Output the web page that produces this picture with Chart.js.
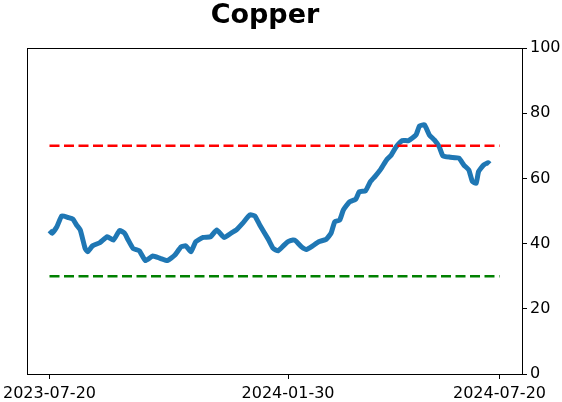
<!DOCTYPE html>
<html>
<head>
<meta charset="utf-8">
<script src="https://cdn.jsdelivr.net/npm/chart.js@4"></script>
<style>
  body { margin: 0; background: #fff; }
  #wrap { width: 562px; height: 402px; }
</style>
</head>
<body>
<div id="wrap"><canvas id="chart" width="562" height="402"></canvas></div>
<script>
// Dados
const chartTitle = 'Copper';
// dias desde 2023-07-20
const days = [0,2,6,10,15,19,22,25,29,31,35,41,47,52,57,61,64,68,73,78,84,90,96,102,107,111,115,119,125,131,136,142,148,152,157,163,167,171,178,182,186,191,194,198,200,205,209,214,219,225,229,232,236,239,244,249,252,257,261,265,269,274,278,282,287,292,298,301,305,309,313,317,320,326,333,337,341,344,347,349,353,357,358];
const values = [44,43.2,45.2,48.5,48,47.5,45.7,44.2,38.5,37.5,39.3,40.3,42.1,41.1,44,43.2,41.1,38.5,37.8,34.8,36.2,35.5,34.8,36.5,39,39.3,37.5,40.6,41.9,42.1,44.2,41.9,43.3,44.2,46.2,48.8,48.5,45.7,41.3,38.5,37.8,39.6,40.6,41.1,40.9,39,38.2,39.3,40.6,41.3,43.2,46.7,47.2,50.3,52.8,53.6,55.9,56.2,59,60.7,62.6,65.6,67.2,69.7,71.6,71.6,73.3,76.1,76.4,73.3,71.8,69.7,66.9,66.5,66.2,64.1,62.6,59,58.5,62.1,64.1,64.8,64.4];
const upperLevel = 70;
const lowerLevel = 30;
const rangeDays = [0, 366];
const tickDays = [0, 194, 366];
const tickLabels = ['2023-07-20', '2024-01-30', '2024-07-20'];
const yTicks = [0, 20, 40, 60, 80, 100];

const FONT = 'DejaVu Sans';
const span = rangeDays[1] - rangeDays[0];

// Moldura e título
const framePlugin = {
    id: 'frame',
    afterDraw(chart) {
        const { ctx, chartArea: a } = chart;
        ctx.save();
        ctx.strokeStyle = '#000';
        ctx.lineWidth = 1;
        ctx.strokeRect(Math.round(a.left) + 0.5, Math.round(a.top) + 0.5,
            Math.round(a.right - a.left), Math.round(a.bottom - a.top));
        ctx.fillStyle = '#000';
        ctx.font = 'bold 27px "' + FONT + '"';
        ctx.textAlign = 'center';
        ctx.textBaseline = 'alphabetic';
        ctx.fillText(chartTitle, 265, 23);
        ctx.restore();
    }
};

// zera os recuos automáticos das escalas
function fixPad(s) {
    s.paddingLeft = 0; s.paddingRight = 0; s.paddingTop = 0; s.paddingBottom = 0;
}

new Chart(document.getElementById('chart'), {
    type: 'line',
    data: {
        datasets: [
            {
                data: rangeDays.map(d => ({ x: d, y: upperLevel })),
                borderColor: '#ff0000', borderWidth: 2.5, borderDash: [10, 4.5],
                pointRadius: 0
            },
            {
                data: rangeDays.map(d => ({ x: d, y: lowerLevel })),
                borderColor: '#008000', borderWidth: 2.5, borderDash: [10, 4.5],
                pointRadius: 0
            },
            {
                data: days.map((d, i) => ({ x: d, y: values[i] })),
                borderColor: '#1f77b4', borderWidth: 5,
                borderJoinStyle: 'round', borderCapStyle: 'butt',
                tension: 0.15, pointRadius: 0
            }
        ]
    },
    options: {
        responsive: false,
        animation: false,
        events: [],
        layout: { padding: { left: 27, top: 48, right: 0, bottom: 0 } },
        plugins: { legend: { display: false }, tooltip: { enabled: false } },
        scales: {
            x: {
                type: 'linear',
                min: rangeDays[0] - span * 0.05,
                max: rangeDays[1] + span * 0.05,
                afterBuildTicks: s => { s.ticks = tickDays.map(v => ({ value: v })); },
                afterFit: s => { s.height = 28; fixPad(s); },
                ticks: {
                    callback: v => tickLabels[tickDays.indexOf(v)],
                    color: '#000', font: { family: FONT, size: 16 },
                    maxRotation: 0, autoSkip: false, padding: 5
                },
                grid: { drawOnChartArea: false, drawTicks: true, tickLength: 5, color: '#000' },
                border: { display: true, color: '#000' }
            },
            y: {
                position: 'right',
                min: 0, max: 100,
                afterBuildTicks: s => { s.ticks = yTicks.map(v => ({ value: v })); },
                afterFit: s => { s.width = 40; fixPad(s); },
                ticks: {
                    color: '#000', font: { family: FONT, size: 16 }, padding: 3
                },
                grid: { drawOnChartArea: false, drawTicks: true, tickLength: 5, color: '#000' },
                border: { display: true, color: '#000' }
            }
        }
    },
    plugins: [framePlugin]
});
</script>
</body>
</html>
